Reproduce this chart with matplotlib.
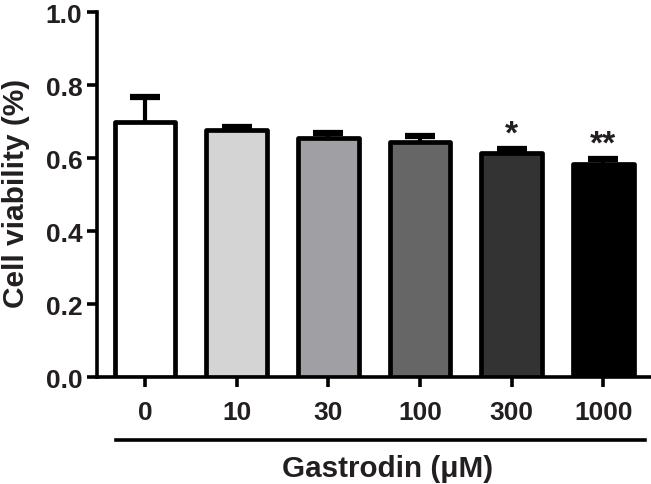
import matplotlib
matplotlib.use('Agg')
import matplotlib.pyplot as plt
import matplotlib.transforms as mtransforms

doses = ['0', '10', '30', '100', '300', '1000']
viability = [0.700, 0.678, 0.655, 0.645, 0.613, 0.585]
sem = [0.066, 0.008, 0.014, 0.015, 0.012, 0.013]
marks = ['', '', '', '', '*', '**']
fills = ['#ffffff', '#d4d4d4', '#a0a0a4', '#666666', '#333333', '#000000']

plt.rcParams['font.family'] = ['Liberation Sans', 'DejaVu Sans']
plt.rcParams['font.weight'] = 'bold'
plt.rcParams['axes.labelweight'] = 'bold'
txt = '#231f20'

fig = plt.figure(figsize=(6.51, 4.85), dpi=100)
ax = fig.add_axes([0.149, 0.2206, 0.851, 0.7524])

xs = list(range(len(doses)))
bars = ax.bar(xs, viability, width=0.66, color=fills, edgecolor='black',
              linewidth=3.4, zorder=3)
for b in bars:
    b.set_joinstyle('round')
eb = ax.errorbar(xs, viability, yerr=[[0] * len(sem), sem], fmt='none',
                 ecolor='black', elinewidth=3, capsize=11, capthick=4.5,
                 zorder=2)
# only the upper caps, like the original
eb[1][0].set_visible(False)

for x, v, e, m in zip(xs, viability, sem, marks):
    if m:
        ax.text(x, v + e - 0.002, m, ha='center', va='bottom',
                fontsize=24, color=txt)

ax.set_xlim(-0.524, 5.52)
ax.set_ylim(0, 1.0)
ax.set_yticks([0.0, 0.2, 0.4, 0.6, 0.8, 1.0])
ax.set_yticklabels(['0.0', '0.2', '0.4', '0.6', '0.8', '1.0'])
ax.set_xticks(xs)
ax.set_xticklabels(doses)
ax.tick_params(axis='both', width=2.6, length=7.5, labelsize=19,
               labelcolor=txt, direction='out')
ax.tick_params(axis='x', pad=9)
ax.tick_params(axis='y', pad=3)
for side in ['top', 'right']:
    ax.spines[side].set_visible(False)
for side in ['left', 'bottom']:
    ax.spines[side].set_linewidth(2.6)

ax.set_ylabel('Cell viability (%)', fontsize=21.5, color=txt)
ax.yaxis.set_label_coords(-0.121, 0.507)

# group line under the tick labels
trans = mtransforms.blended_transform_factory(ax.transData, ax.transAxes)
ax.plot([-0.32, 5.45], [-0.173, -0.173], color='black', linewidth=2.6,
        transform=trans, clip_on=False)
ax.text(2.65, -0.25, 'Gastrodin (μM)', transform=trans, ha='center',
        va='center', fontsize=21.3, color=txt)

fig.savefig('out.png', dpi=100)
